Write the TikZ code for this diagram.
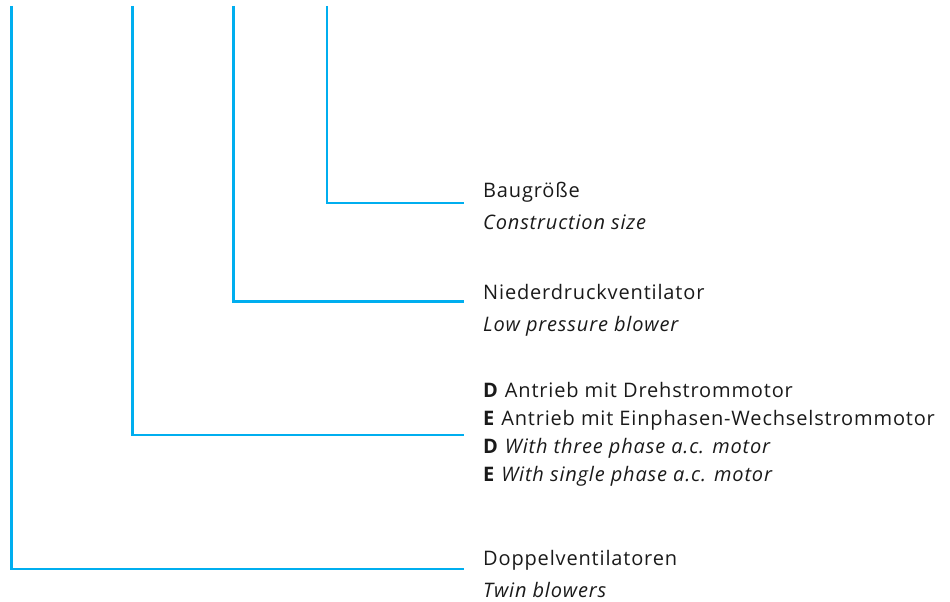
\documentclass[tikz,border=0pt]{standalone}
\usepackage{fontspec}
\setmainfont{Open Sans}[LetterSpace=4.2]
\definecolor{leader}{RGB}{0,174,239}
\definecolor{txt}{RGB}{26,26,26}
\begin{document}
\begin{tikzpicture}[x=1pt,y=-1pt,
  leaderline/.style={draw=leader,line width=2.4pt},
  lbl/.style={anchor=base west,inner sep=0pt,text=txt,font=\fontsize{20}{22}\selectfont}]
\useasboundingbox (0,0) rectangle (950,602);
% top ends
\coordinate (s1) at (11.5,6);
\coordinate (s2) at (132.5,6);
\coordinate (s3) at (233.5,6);
\coordinate (s4) at (327,6);
% right ends
\coordinate (e1) at (464,569);
\coordinate (e2) at (464,435);
\coordinate (e3) at (464,301.5);
\coordinate (e4) at (464,203);
\draw[leaderline] (s1) |- (e1);
\draw[leaderline] (s2) |- (e2);
\draw[leaderline] (s3) |- (e3);
\draw[leaderline] (s4) |- (e4);
% labels
\node[lbl] (a1) at (483,197) {Baugröße};
\node[lbl] (a2) at (483,229.5) {\itshape Construction size};
\node[lbl] (b1) at (483,299.5) {Niederdruckventilator};
\node[lbl] (b2) at (483,331.5) {\itshape Low pressure blower};
\node[lbl] (c1) at (483,397) {\textbf{D} Antrieb mit Drehstrommotor};
\node[lbl] (c2) at (483,425.5) {\textbf{E} Antrieb mit Einphasen-Wechselstrommotor};
\node[lbl] (c3) at (483,453.5) {\textbf{D} \itshape With three phase a.c. motor};
\node[lbl] (c4) at (483,481.5) {\textbf{E} \itshape With single phase a.c. motor};
\node[lbl] (d1) at (483,565) {Doppelventilatoren};
\node[lbl] (d2) at (483,597) {\itshape Twin blowers};
\end{tikzpicture}
\end{document}
